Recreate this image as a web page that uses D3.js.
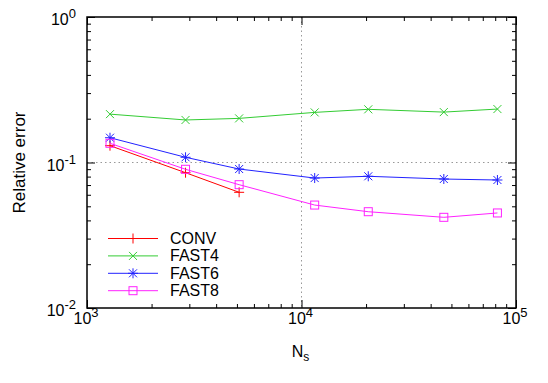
<!DOCTYPE html>
<html lang="en">
<head>
    <meta charset="UTF-8">
    <title>Relative error vs Ns</title>
    <script src="https://d3js.org/d3.v7.min.js"></script>
    <style>
        body { margin: 0; background: #fff; }
        text { font-family: "Liberation Sans", Arial, sans-serif; fill: #000; }
    </style>
</head>
<body>
    <div id="chart"></div>

    <script>
        // Datos
        const nsValues = [1280, 2880, 5120, 11520, 20480, 46080, 81920];
        const convErr  = [0.1305, 0.0851, 0.0624];
        const fast4Err = [0.215, 0.196, 0.201, 0.221, 0.232, 0.222, 0.233];
        const fast6Err = [0.148, 0.1086, 0.0902, 0.0782, 0.0804, 0.077, 0.0758];
        const fast8Err = [0.1355, 0.0898, 0.0704, 0.0510, 0.0459, 0.0420, 0.0450];
        const seriesNames = ["CONV", "FAST4", "FAST6", "FAST8"];
        const xTickExps = [3, 4, 5];
        const yTickExps = [0, -1, -2];

        const colors = ["#ff0000", "#33cc33", "#2222ff", "#ff22ff"];
        const markers = ["plus", "cross", "star", "square"];
        const series = [convErr, fast4Err, fast6Err, fast8Err].map((vals, i) => ({
            name: seriesNames[i],
            color: colors[i],
            marker: markers[i],
            points: vals.map((v, j) => ({ x: nsValues[j], y: v }))
        }));

        const W = 548, H = 383;
        const margin = { top: 17, right: 32, bottom: 75, left: 87 };
        const width = W - margin.left - margin.right;
        const height = H - margin.top - margin.bottom;

        const root = d3.select("#chart").append("svg")
            .attr("width", W)
            .attr("height", H);
        const svg = root.append("g")
            .attr("transform", `translate(${margin.left},${margin.top})`);

        const x = d3.scaleLog().domain([1e3, 1e5]).range([0, width]);
        const y = d3.scaleLog().domain([1e-2, 1]).range([height, 0]);

        const minorX = [];
        [1e3, 1e4].forEach(d => { for (let k = 2; k <= 9; k++) minorX.push(d * k); });
        const minorY = [];
        [1e-2, 1e-1].forEach(d => { for (let k = 2; k <= 9; k++) minorY.push(d * k); });
        const majorX = xTickExps.map(e => Math.pow(10, e));
        const majorY = yTickExps.map(e => Math.pow(10, e));

        // Rejilla punteada
        svg.append("line")
            .attr("x1", x(1e4)).attr("x2", x(1e4))
            .attr("y1", 0).attr("y2", height)
            .attr("stroke", "#999").attr("stroke-dasharray", "1.5,3");
        svg.append("line")
            .attr("x1", 0).attr("x2", width)
            .attr("y1", y(0.1)).attr("y2", y(0.1))
            .attr("stroke", "#999").attr("stroke-dasharray", "1.5,3");

        // Ticks hacia dentro en los cuatro lados
        function ticks(axis, vals, size, transform) {
            const g = svg.append("g")
                .attr("transform", transform)
                .call(axis.tickValues(vals).tickSize(size).tickFormat(""));
            g.select(".domain").remove();
            g.selectAll(".tick line").attr("stroke", "#000").attr("stroke-width", 1);
        }
        ticks(d3.axisBottom(x), majorX, -8, `translate(0,${height})`);
        ticks(d3.axisBottom(x), minorX, -4, `translate(0,${height})`);
        ticks(d3.axisTop(x), majorX, -8, "translate(0,0)");
        ticks(d3.axisTop(x), minorX, -4, "translate(0,0)");
        ticks(d3.axisLeft(y), majorY, -8, "translate(0,0)");
        ticks(d3.axisLeft(y), minorY, -4, "translate(0,0)");
        ticks(d3.axisRight(y), majorY, -8, `translate(${width},0)`);
        ticks(d3.axisRight(y), minorY, -4, `translate(${width},0)`);

        svg.append("rect")
            .attr("width", width).attr("height", height)
            .attr("fill", "none").attr("stroke", "#000").attr("stroke-width", 1.5);

        // Etiquetas de ticks con exponente
        function powLabel(t, e) {
            t.append("tspan").text("10");
            t.append("tspan").attr("font-size", 13).attr("dy", -7).text(e);
        }
        xTickExps.forEach(e => {
            const t = svg.append("text")
                .attr("x", x(Math.pow(10, e)) - 1)
                .attr("y", height + 16)
                .attr("font-size", 16)
                .attr("text-anchor", "middle");
            powLabel(t, e);
        });
        yTickExps.forEach(e => {
            const t = svg.append("text")
                .attr("x", -11)
                .attr("y", y(Math.pow(10, e)) + 8)
                .attr("font-size", 16)
                .attr("text-anchor", "end");
            powLabel(t, e);
        });

        // Titulos de ejes
        const xl = svg.append("text")
            .attr("x", x(1e4) - 1)
            .attr("y", height + 49)
            .attr("font-size", 16)
            .attr("text-anchor", "middle");
        xl.append("tspan").text("N");
        xl.append("tspan").attr("font-size", 12).attr("dy", 4).text("s");

        svg.append("text")
            .attr("transform", `translate(${25 - margin.left},${height / 2}) rotate(-90)`)
            .attr("font-size", 17)
            .attr("text-anchor", "middle")
            .text("Relative error");

        // Marcadores
        function drawMarker(g, type, cx, cy, color) {
            const s = 4;
            const line = (x1, y1, x2, y2) => g.append("line")
                .attr("x1", cx + x1).attr("y1", cy + y1)
                .attr("x2", cx + x2).attr("y2", cy + y2)
                .attr("stroke", color).attr("stroke-width", 1);
            if (type === "plus" || type === "star") {
                line(-s - 1, 0, s + 1, 0);
                line(0, -s - 1, 0, s + 1);
            }
            if (type === "cross" || type === "star") {
                line(-s, -s, s, s);
                line(-s, s, s, -s);
            }
            if (type === "square") {
                g.append("rect")
                    .attr("x", cx - s).attr("y", cy - s)
                    .attr("width", 2 * s).attr("height", 2 * s)
                    .attr("fill", "none").attr("stroke", color).attr("stroke-width", 1);
            }
        }

        const lineGen = d3.line().x(d => x(d.x)).y(d => y(d.y));
        series.forEach(s => {
            const g = svg.append("g");
            g.append("path")
                .datum(s.points)
                .attr("d", lineGen)
                .attr("fill", "none")
                .attr("stroke", s.color)
                .attr("stroke-width", 1);
            s.points.forEach(p => drawMarker(g, s.marker, x(p.x), y(p.y), s.color));
        });

        // Leyenda
        const legend = root.append("g");
        series.forEach((s, i) => {
            const ly = 238.5 + i * 17.4;
            legend.append("line")
                .attr("x1", 108).attr("x2", 158)
                .attr("y1", ly).attr("y2", ly)
                .attr("stroke", s.color).attr("stroke-width", 1);
            drawMarker(legend, s.marker, 133, ly, s.color);
            legend.append("text")
                .attr("x", 170).attr("y", ly + 5.5)
                .attr("font-size", 16)
                .text(s.name);
        });
    </script>
</body>
</html>
